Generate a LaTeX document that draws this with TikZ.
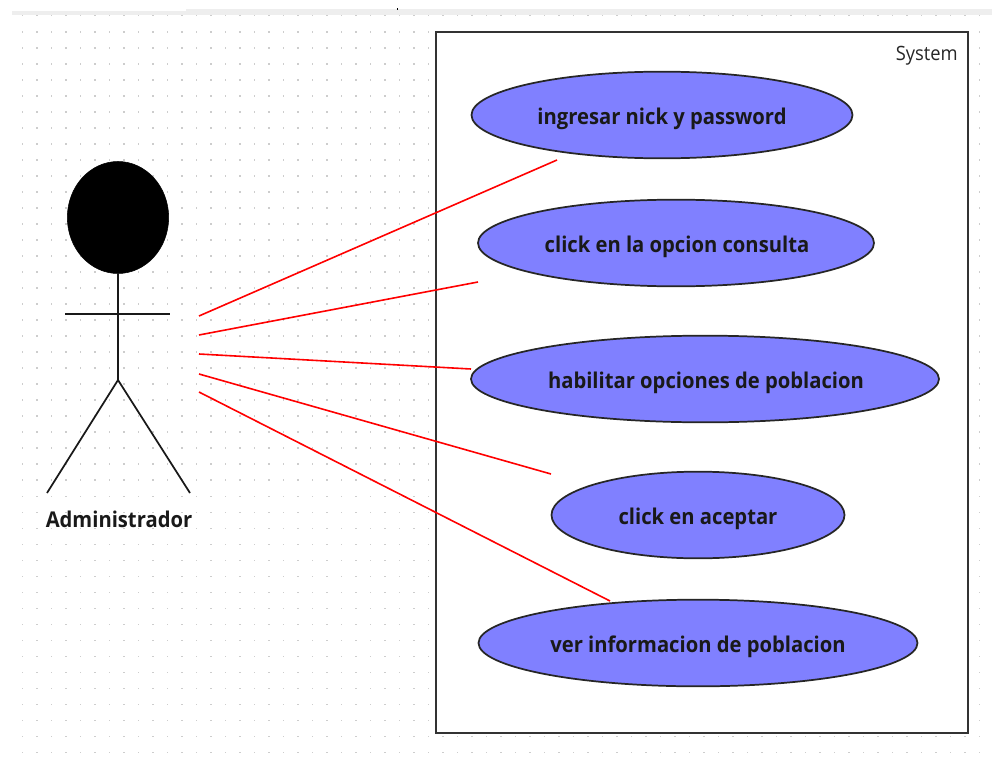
\documentclass[tikz,border=0pt]{standalone}
\usepackage{fontspec}
\setmainfont[FakeStretch=0.93]{Open Sans}
\definecolor{ucfill}{RGB}{128,128,255}
\definecolor{griddot}{RGB}{205,205,205}
\definecolor{topbar}{RGB}{238,238,238}
\usetikzlibrary{shapes.geometric}
\tikzset{
  x=0.75pt,y=-0.75pt,
  usecase/.style={ellipse,draw=black!85,line width=1.3pt,fill=ucfill,inner sep=0pt,minimum width=#1*0.75pt,minimum height=65pt},
  uctext/.style={font=\fontsize{16.3}{18}\selectfont\bfseries,text=black!90},
  assoc/.style={draw=red,line width=1.2pt},
  stick/.style={draw=black!90,line width=1.3pt},
}
\begin{document}
\begin{tikzpicture}
\useasboundingbox (0,0) rectangle (992,767);
\fill[white] (0,0) rectangle (992,767);
\fill[topbar] (12,11) rectangle (186,15);
\fill[topbar] (186,9) rectangle (992,15);
\fill[black] (397,8) rectangle (398,10);
\foreach \i in {0,...,66}{\foreach \j in {0,...,46}{
  \fill[griddot] ({22.3+14.5*\i-0.8},{15.7+16.02*\j-0.8}) rectangle ++(1.6,1.6);
}}
\node[draw=black!80,line width=1.5pt,fill=white,minimum width=399pt,minimum height=526pt,inner sep=0pt] (sys) at (701.5,382.5) {};
\node[anchor=north east,font=\fontsize{14.8}{16}\selectfont,text=black!85] (syslabel) at (962.5,42) {System};
\node[usecase=381] (a) at (662,115) {};
\node[usecase=396] (b) at (676,243) {};
\node[usecase=468] (c) at (705,379) {};
\node[usecase=293] (d) at (698,515) {};
\node[usecase=439] (e) at (698,643) {};
\node[uctext] (at) at (662,119) {ingresar nick y password};
\node[uctext] (bt) at (677,247) {click en la opcion consulta};
\node[uctext] (ct) at (706,383) {habilitar opciones de poblacion};
\node[uctext] (dt) at (698,519) {click en aceptar};
\node[uctext] (et) at (698,647) {ver informacion de poblacion};
% actor
\node[ellipse,fill=black,draw=black,inner sep=0pt,minimum width=76pt,minimum height=84pt] (head) at (118,217.5) {};
\coordinate (hipo) at (118,380);
\coordinate (armL) at (65,314);
\coordinate (armR) at (170,314);
\coordinate (footL) at (47,493);
\coordinate (footR) at (190,493);
\draw[stick] (head) -- (hipo);
\draw[stick] (armL) -- (armR);
\draw[stick] (footL) -- (hipo) -- (footR);
\node[uctext] (actor) at (119,519) {Administrador};
% associations
\coordinate (p1) at (199,316); \coordinate (q1) at (557,160);
\coordinate (p2) at (199,335); \coordinate (q2) at (478,282);
\coordinate (p3) at (199,354); \coordinate (q3) at (471,369);
\coordinate (p4) at (199,374); \coordinate (q4) at (551,474);
\coordinate (p5) at (199,392); \coordinate (q5) at (610,601);
\draw[assoc] (p1) -- (q1);
\draw[assoc] (p2) -- (q2);
\draw[assoc] (p3) -- (q3);
\draw[assoc] (p4) -- (q4);
\draw[assoc] (p5) -- (q5);
\end{tikzpicture}
\end{document}
